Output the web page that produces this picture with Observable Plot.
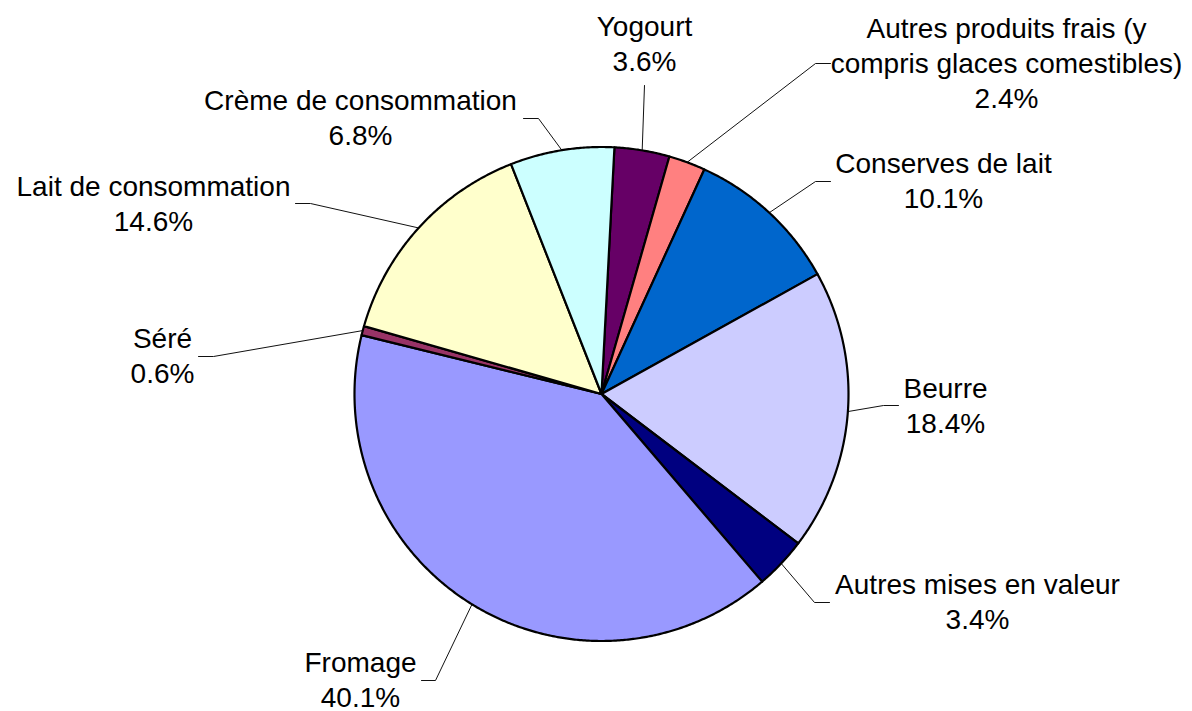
<!DOCTYPE html>
<html><head><meta charset="utf-8">
<script src="https://cdn.jsdelivr.net/npm/d3@7"></script>
<script src="https://cdn.jsdelivr.net/npm/@observablehq/plot@0.6"></script>
<style>html,body{margin:0;padding:0;background:#fff}</style>
</head><body><div id="chart"></div>
<script>
// ---- data ----
const categories = ["Yogourt", "Autres produits frais (y\ncompris glaces comestibles)", "Conserves de lait", "Beurre", "Autres mises en valeur", "Fromage", "Séré", "Lait de consommation", "Crème de consommation"];
const shares = [3.6, 2.4, 10.1, 18.4, 3.4, 40.1, 0.6, 14.6, 6.8];
const colors = ["#660066", "#FF8080", "#0066CC", "#CCCCFF", "#000080", "#9999FF", "#993366", "#FFFFCC", "#CCFFFF"];

// ---- layout (label placement, pixel frame) ----
const labelX = [644, 1006, 943, 945, 977, 360, 162, 153, 360];
const labelBaseline = [70, 107, 207, 432, 628, 706, 382, 230, 144];
const leaderKnee = [null, [815, 63], [815, 181], [883, 405], [814, 602], [435, 680], [213, 356], [310, 203], [538, 118]];
const leaderEnd = [[644, 85], [830, 63], [830, 181], [898, 405], [829, 602], [421, 680], [198, 356], [295, 203], [523, 118]];

const W = 1192, H = 711, cx = 601, cy = 393.5, R = 247;
const start = 3.0 * Math.PI / 180;
const fs = 28;

const arcs = d3.pie().sort(null).startAngle(start).endAngle(start + 2 * Math.PI)(shares);
const pt = (a, r) => [cx + r * Math.sin(a), cy - r * Math.cos(a)];

const sliceRows = [];
arcs.forEach((a, i) => {
  const cat = categories[i];
  sliceRows.push({cat, x: cx, y: cy});
  const n = Math.max(2, Math.ceil((a.endAngle - a.startAngle) / (0.4 * Math.PI / 180)));
  for (let k = 0; k <= n; k++) {
    const t = a.startAngle + (a.endAngle - a.startAngle) * k / n;
    const [x, y] = pt(t, R);
    sliceRows.push({cat, x, y});
  }
});

const leaderRows = [];
arcs.forEach((a, i) => {
  const cat = categories[i];
  const [x0, y0] = pt((a.startAngle + a.endAngle) / 2, R);
  leaderRows.push({cat, x: x0, y: y0});
  if (leaderKnee[i]) leaderRows.push({cat, x: leaderKnee[i][0], y: leaderKnee[i][1]});
  leaderRows.push({cat, x: leaderEnd[i][0], y: leaderEnd[i][1]});
});

const labelRows = categories.map((c, i) => ({
  cat: c, x: labelX[i], y: labelBaseline[i],
  text: c + "\n" + shares[i].toFixed(1) + "%"
}));

const chart = Plot.plot({
  width: W, height: H, margin: 0,
  style: {fontFamily: "'Liberation Sans', Arial, sans-serif", background: "#fff"},
  x: {domain: [0, W], range: [0, W], axis: null},
  y: {domain: [0, H], range: [0, H], axis: null},
  color: {type: "ordinal", domain: categories, range: colors},
  marks: [
    Plot.line(leaderRows, {x: "x", y: "y", z: "cat", stroke: "#111", strokeWidth: 1}),
    Plot.line(sliceRows, {x: "x", y: "y", z: "cat", fill: "cat", stroke: "#000", strokeWidth: 2.2, curve: "linear-closed", strokeLinejoin: "round"}),
    Plot.text(labelRows, {x: "x", y: "y", text: "text", textAnchor: "middle", lineAnchor: "bottom", lineHeight: 35 / fs, fontSize: fs, fill: "#000"})
  ]
});
document.getElementById("chart").appendChild(chart);
</script>
</body></html>
